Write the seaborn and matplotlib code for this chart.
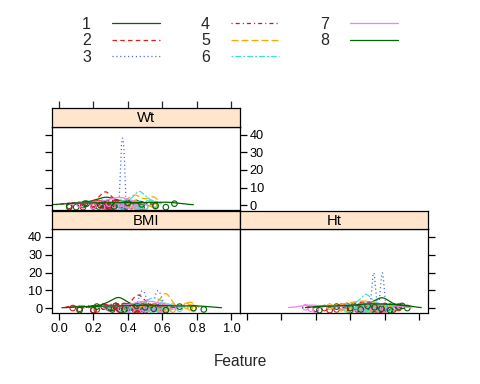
import numpy as np
import pandas as pd
import matplotlib
matplotlib.use("Agg")
import matplotlib.pyplot as plt
import seaborn as sns
from matplotlib.lines import Line2D

sns.set_style("white")
plt.rcParams["font.family"] = ["Liberation Sans", "DejaVu Sans"]
plt.rcParams["lines.scale_dashes"] = False

# ---------------- data ----------------
groups = ["1", "2", "3", "4", "5", "6", "7", "8"]
panels = ["BMI", "Ht", "Wt"]

bmi_values = [
    [0.20, 0.26, 0.29, 0.31, 0.33, 0.34, 0.35, 0.36, 0.38, 0.40, 0.44, 0.50],
    [0.08, 0.22, 0.33, 0.42, 0.44, 0.45, 0.46, 0.46, 0.47, 0.48, 0.50, 0.55],
    [0.47, 0.48, 0.49, 0.50, 0.56, 0.57, 0.58, 0.59],
    [0.12, 0.20, 0.26, 0.31, 0.35, 0.38, 0.42, 0.46, 0.50, 0.55, 0.60],
    [0.50, 0.56, 0.59, 0.60, 0.61, 0.62, 0.62, 0.63, 0.64, 0.66, 0.74, 0.76, 0.78],
    [0.40, 0.46, 0.50, 0.52, 0.54, 0.55, 0.56, 0.58, 0.60, 0.64, 0.70],
    [0.28, 0.36, 0.42, 0.45, 0.48, 0.50, 0.52, 0.54, 0.57, 0.60, 0.66],
    [0.12, 0.22, 0.30, 0.38, 0.45, 0.50, 0.55, 0.62, 0.70, 0.78, 0.84],
]
ht_values = [
    [0.60, 0.66, 0.70, 0.73, 0.75, 0.77, 0.78, 0.79, 0.80, 0.82, 0.85, 0.90],
    [0.45, 0.52, 0.58, 0.62, 0.65, 0.68, 0.70, 0.72, 0.75, 0.80, 0.86],
    [0.728, 0.735, 0.742, 0.778, 0.785, 0.792],
    [0.40, 0.48, 0.55, 0.60, 0.64, 0.68, 0.71, 0.74, 0.78, 0.83, 0.88],
    [0.48, 0.55, 0.59, 0.62, 0.65, 0.67, 0.70, 0.72, 0.75, 0.80],
    [0.58, 0.62, 0.65, 0.67, 0.68, 0.69, 0.70, 0.71, 0.73, 0.76, 0.82],
    [0.34, 0.37, 0.40, 0.55, 0.63, 0.67, 0.70, 0.73, 0.76, 0.80, 0.86],
    [0.42, 0.52, 0.60, 0.66, 0.70, 0.74, 0.78, 0.83, 0.88, 0.93],
]
wt_values = [
    [0.10, 0.16, 0.20, 0.23, 0.25, 0.27, 0.28, 0.30, 0.32, 0.35, 0.39, 0.45],
    [0.14, 0.20, 0.23, 0.25, 0.26, 0.27, 0.28, 0.29, 0.31, 0.34, 0.40],
    [0.358, 0.364, 0.369, 0.374, 0.380],
    [0.06, 0.14, 0.20, 0.25, 0.29, 0.33, 0.37, 0.42, 0.48],
    [0.36, 0.40, 0.42, 0.44, 0.45, 0.47, 0.50, 0.53, 0.55, 0.56],
    [0.36, 0.40, 0.43, 0.45, 0.46, 0.47, 0.48, 0.50, 0.52, 0.56],
    [0.12, 0.20, 0.25, 0.29, 0.32, 0.34, 0.36, 0.38, 0.41, 0.45],
    [0.06, 0.15, 0.24, 0.32, 0.40, 0.48, 0.56, 0.62, 0.67],
]
x_ticks = [0.0, 0.2, 0.4, 0.6, 0.8, 1.0]
x_ticklabels = ["0.0", "0.2", "0.4", "0.6", "0.8", "1.0"]
y_ticks = [0, 10, 20, 30, 40]
y_ticklabels = ["0", "10", "20", "30", "40"]

rows = []
for pname, vals in zip(panels, [bmi_values, ht_values, wt_values]):
    for g, vs in zip(groups, vals):
        for i, v in enumerate(vs):
            rows.append({"panel": pname, "group": g, "value": v, "idx": i})
df = pd.DataFrame(rows)

# ---------------- style ----------------
colors = ["#006400", "#E41A1C", "#3A62F0", "#B22222",
          "#FFA500", "#40E0D0", "#EE82EE", "#006400"]
lw = 0.9
linestyles = ["-", (0, (3.2, 2.4)), (0, (0.8, 2.0)), (0, (0.8, 2.2, 2.9, 2.2)),
              (0, (5.0, 2.2)), (0, (1.4, 1.4, 4.3, 1.4)), "-", "-"]
bw_adj = {
    "BMI": [0.55, 0.35, 0.5, 0.55, 0.45, 0.55, 0.55, 0.45],
    "Ht": [0.55, 0.55, 0.4, 0.55, 0.55, 0.5, 0.55, 0.5],
    "Wt": [0.55, 0.5, 0.8, 0.55, 0.55, 0.55, 0.55, 0.5],
}
strip_color = "#FFE5CC"

W, H = 480, 384
def rect(x0, y0, x1, y1):
    return [x0 / W, 1 - y1 / H, (x1 - x0) / W, (y1 - y0) / H]

fig = plt.figure(figsize=(4.8, 3.84), dpi=100)
fig.patch.set_facecolor("white")

ax_wt = fig.add_axes(rect(52, 127, 240, 210))
st_wt = fig.add_axes(rect(52, 108, 240, 127))
ax_bmi = fig.add_axes(rect(52, 229, 240, 313))
st_bmi = fig.add_axes(rect(52, 211, 240, 229))
ax_ht = fig.add_axes(rect(240, 229, 428, 313))
st_ht = fig.add_axes(rect(240, 211, 428, 229))

xlim = (-0.04, 1.05)
ylim = (-2.8, 44.5)
axes = {"BMI": ax_bmi, "Ht": ax_ht, "Wt": ax_wt}
strips = {"BMI": st_bmi, "Ht": st_ht, "Wt": st_wt}

for pname in panels:
    ax = axes[pname]
    sub = df[df["panel"] == pname]
    for gi, g in enumerate(groups):
        d = sub[sub["group"] == g]
        sns.kdeplot(x=d["value"].to_numpy(), ax=ax, color=colors[gi],
                    linestyle=linestyles[gi], linewidth=lw,
                    bw_adjust=bw_adj[pname][gi], cut=1.6)
        jit = (((d["idx"].to_numpy() * 5 + gi * 3) % 7) - 3) * 0.4
        sns.scatterplot(x=d["value"].to_numpy(), y=jit, ax=ax, marker="o",
                        facecolor="none", edgecolor=colors[gi], s=16,
                        linewidth=0.8, legend=False)
    ax.set_xlim(*xlim)
    ax.set_ylim(*ylim)
    ax.set_xlabel("")
    ax.set_ylabel("")
    ax.set_facecolor("white")
    for sp in ax.spines.values():
        sp.set_color("black")
        sp.set_linewidth(0.9)
        sp.set_visible(True)
    ax.set_xticks(x_ticks)
    ax.set_yticks(y_ticks)
    ax.tick_params(direction="out", length=5, width=0.9, colors="black",
                   labelsize=9.2, pad=2,
                   bottom=False, top=False, left=False, right=False,
                   labelbottom=False, labeltop=False, labelleft=False, labelright=False)

    st = strips[pname]
    st.set_facecolor(strip_color)
    st.set_xlim(*xlim)
    st.set_yticks([])
    st.set_xticks([])
    for sp in st.spines.values():
        sp.set_color("black")
        sp.set_linewidth(0.9)
    st.text(0.5, 0.45, pname, transform=st.transAxes, ha="center", va="center",
            fontsize=10.7, color="black")

# axis decorations as in the lattice layout
ax_bmi.tick_params(bottom=True, labelbottom=True, left=True, labelleft=True)
ax_bmi.set_xticklabels(x_ticklabels)
ax_bmi.set_yticklabels(y_ticklabels)
ax_ht.tick_params(bottom=True, right=True)
ax_wt.tick_params(left=True, right=True, labelright=True)
ax_wt.set_yticklabels(y_ticklabels)
st_wt.set_xticks(x_ticks)
st_wt.tick_params(top=True, bottom=False, labeltop=False, labelbottom=False,
                  direction="out", length=5, width=0.9)

fig.text(240 / W, 1 - 362 / H, "Feature", ha="center", va="center", fontsize=11.2)

handles = [Line2D([], [], color=c, linestyle=ls, linewidth=lw)
           for c, ls in zip(colors, linestyles)]
fig.legend(handles=handles, labels=groups, ncol=3, markerfirst=False,
           frameon=False, loc="upper left", bbox_to_anchor=(82 / W, 1 - 17 / H),
           borderpad=0, borderaxespad=0, fontsize=11.5, handlelength=3.0,
           handletextpad=1.3, columnspacing=2.6, labelspacing=0.08)

fig.savefig("out.png", dpi=100)
